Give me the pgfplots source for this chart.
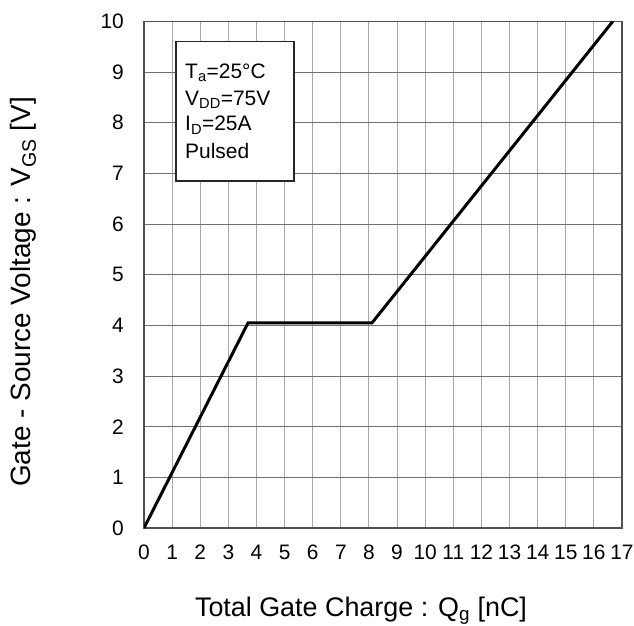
\documentclass[border=0pt]{standalone}
\usepackage{fontspec}
\setmainfont{Liberation Sans}
\usepackage{pgfplots}
\pgfplotsset{compat=1.18}

\definecolor{gridv}{HTML}{A8A8A8}
\definecolor{gridh}{HTML}{707070}
\definecolor{frame}{HTML}{505050}

\begin{document}
\begin{tikzpicture}
  \begin{axis}[
      scale only axis,
      width=478bp, height=506.5bp,
      xmin=0, xmax=17, ymin=0, ymax=10,
      xtick={0,1,...,17},
      ytick={0,1,...,10},
      major tick length=0pt,
      axis line style={frame, line width=1.4bp},
      xmajorgrids, ymajorgrids,
      x grid style={gridv, line width=1bp},
      y grid style={gridh, line width=1bp},
      /pgf/number format/assume math mode=true,
      tick label style={font=\fontsize{21}{23}\selectfont, inner sep=0pt},
      xticklabel style={anchor=north, text height=15bp, text depth=0pt},
      xticklabel shift=16bp,
      yticklabel shift=20bp,
      xlabel={Total Gate Charge : Q\textsubscript{g} [nC]},
      ylabel={Gate - Source Voltage : V\textsubscript{GS} [V]},
      label style={inner sep=0pt},
      xlabel style={font=\fontsize{27}{30}\selectfont,
        at={(axis description cs:0.454,-0.1757)}, anchor=base},
      ylabel style={font=\fontsize{28}{31}\selectfont,
        at={(axis description cs:-0.252,0.466)}, anchor=center},
    ]
    % gate charge curve
    \addplot[black, line width=3bp] coordinates {
      (0,0)
      (3.70,4.05)
      (8.11,4.05)
      (16.67,10)
    };
    % condition box
    \draw[fill=white, draw=black!85, line width=1.3bp]
      (axis cs:1.14,6.85) rectangle (axis cs:5.33,9.60);
    \begin{scope}[every node/.style={anchor=base west, inner sep=0pt,
        font=\fontsize{21}{23}\selectfont}]
      \node at (axis cs:1.46,8.88) {T\textsubscript{a}=25°C};
      \node at (axis cs:1.46,8.35) {V\textsubscript{DD}=75V};
      \node at (axis cs:1.46,7.84) {I\textsubscript{D}=25A};
      \node at (axis cs:1.46,7.30) {Pulsed};
    \end{scope}
  \end{axis}
  \pgfresetboundingbox
  \path (-144bp,-98bp) rectangle (490bp,528bp);
\end{tikzpicture}
\end{document}
